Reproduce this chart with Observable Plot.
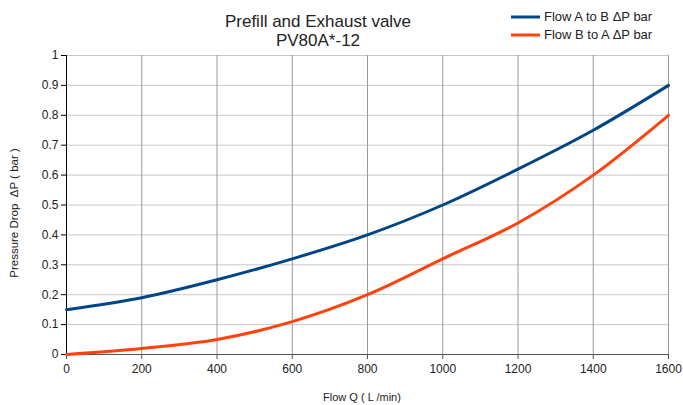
<!DOCTYPE html>
<html><head><meta charset="utf-8">
<script src="https://cdn.jsdelivr.net/npm/d3@7"></script>
<script src="https://cdn.jsdelivr.net/npm/@observablehq/plot@0.6"></script>
<style>body{margin:0;background:#fff;font-family:"Liberation Sans",Arial,sans-serif}</style>
</head><body><div id="chart"></div>
<script>
const flow = [0, 200, 400, 600, 800, 1000, 1200, 1400, 1600];
const flowAtoB = [0.15, 0.19, 0.25, 0.32, 0.40, 0.50, 0.62, 0.75, 0.90];
const flowBtoA = [0.00, 0.02, 0.05, 0.11, 0.20, 0.32, 0.44, 0.60, 0.80];
const seriesNames = ["Flow A to B ΔP bar", "Flow B to A ΔP bar"];
const seriesColors = ["#004586", "#ff420e"];
const xTicks = [0, 200, 400, 600, 800, 1000, 1200, 1400, 1600];
const yTicks = [0, 0.1, 0.2, 0.3, 0.4, 0.5, 0.6, 0.7, 0.8, 0.9, 1];
const title = ["Prefill and Exhaust valve", "PV80A*-12"];

const data = [
  ...flow.map((q, i) => ({q, p: flowAtoB[i], s: seriesNames[0]})),
  ...flow.map((q, i) => ({q, p: flowBtoA[i], s: seriesNames[1]}))
];

const plot = Plot.plot({
  width: 683, height: 405,
  marginLeft: 66, marginRight: 15, marginTop: 55, marginBottom: 51,
  style: {fontFamily: "Liberation Sans, Arial, sans-serif", fontSize: "12px", color: "#222"},
  x: {domain: [0, 1600], ticks: xTicks, tickFormat: d => String(d), label: null},
  y: {domain: [0, 1], ticks: yTicks, tickFormat: d => String(d), label: null},
  color: {domain: seriesNames, range: seriesColors},
  marks: [
    Plot.gridY(yTicks, {stroke: "#c8c8c8", strokeOpacity: 1, strokeWidth: 1}),
    Plot.gridX(xTicks, {stroke: "#999", strokeOpacity: 1, strokeWidth: 1}),
    Plot.ruleY([0], {stroke: "#555", strokeWidth: 1}),
    Plot.ruleX([0], {stroke: "#000", strokeWidth: 1}),
    Plot.axisX(xTicks, {tickSize: 5, tickPadding: 5, fontSize: 12, stroke: "#555", tickFormat: d => String(d), label: null}),
    Plot.axisY(yTicks, {tickSize: 5, tickPadding: 3, fontSize: 12, stroke: "#000", tickFormat: d => String(d), label: null}),
    Plot.line(data, {x: "q", y: "p", z: "s", stroke: "s", strokeWidth: 3, curve: "catmull-rom"})
  ]
});
document.getElementById("chart").appendChild(plot);

const svg = d3.select(plot);
svg.append("text").attr("x", 318).attr("y", 27).attr("text-anchor", "middle")
  .attr("font-size", 17).attr("fill", "#222").text(title[0]);
svg.append("text").attr("x", 318).attr("y", 46).attr("text-anchor", "middle")
  .attr("font-size", 17).attr("fill", "#222").text(title[1]);
seriesNames.forEach((n, i) => {
  const y = 17 + i * 18;
  svg.append("line").attr("x1", 511).attr("x2", 540).attr("y1", y).attr("y2", y)
    .attr("stroke", seriesColors[i]).attr("stroke-width", 3);
  svg.append("text").attr("x", 544).attr("y", y + 4).attr("font-size", 13)
    .attr("text-anchor", "start").attr("fill", "#222").text(n);
});
svg.append("text").attr("transform", "translate(18,213) rotate(-90)").attr("text-anchor", "middle")
  .attr("font-size", 11.5).attr("fill", "#222").text("Pressure Drop  ΔP ( bar )");
svg.append("text").attr("x", 362).attr("y", 401).attr("text-anchor", "middle")
  .attr("font-size", 11).attr("fill", "#222").text("Flow Q ( L /min)");
</script></body></html>
